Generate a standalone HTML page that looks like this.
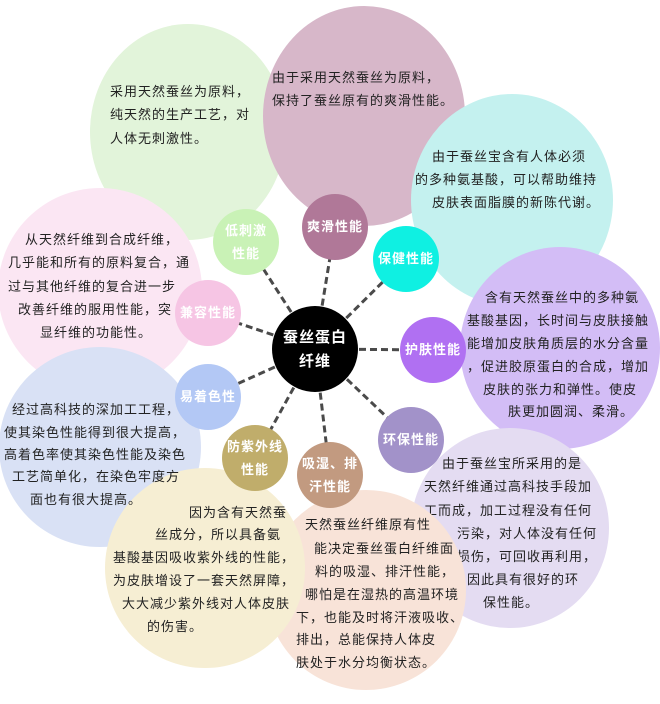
<!DOCTYPE html>
<html><head><meta charset="utf-8"><style>
body{margin:0;background:#fff;}
#c{position:relative;width:660px;height:704px;overflow:hidden;font-family:"Liberation Sans","Noto Sans CJK SC",sans-serif;}
.t{position:absolute;font-size:13px;letter-spacing:1px;color:#222;white-space:pre;line-height:16px;}
svg{position:absolute;left:0;top:0;}
.l{position:absolute;font-size:13px;letter-spacing:1px;color:#fff;white-space:pre;text-align:center;line-height:23px;font-weight:bold;}
</style></head><body><div id="c">
<svg width="660" height="704">
<ellipse cx="188" cy="132" rx="98" ry="108" fill="#e2f4da"/>
<ellipse cx="364" cy="116" rx="101" ry="110" fill="#d7b7c9"/>
<ellipse cx="512" cy="200" rx="101" ry="106" fill="#c4f1ef"/>
<ellipse cx="100" cy="290" rx="102" ry="102" fill="#fbe6f3"/>
<ellipse cx="560" cy="348" rx="100" ry="101" fill="#d3bdf6"/>
<ellipse cx="100" cy="447" rx="101" ry="100" fill="#d9e1f5"/>
<ellipse cx="510" cy="528" rx="99" ry="100" fill="#e4dcf2"/>
</svg>
<div class="t" style="left:110px;top:84px">采用天然蚕丝为原料，</div>
<div class="t" style="left:110px;top:107px">纯天然的生产工艺，对</div>
<div class="t" style="left:110px;top:131px">人体无刺激性。</div>
<div class="t" style="left:272px;top:70px">由于采用天然蚕丝为原料，</div>
<div class="t" style="left:272px;top:93px">保持了蚕丝原有的爽滑性能。</div>
<div class="t" style="left:432px;top:149px">由于蚕丝宝含有人体必须</div>
<div class="t" style="left:415px;top:172px">的多种氨基酸，可以帮助维持</div>
<div class="t" style="left:432px;top:195px">皮肤表面脂膜的新陈代谢。</div>
<div class="t" style="left:25px;top:232px">从天然纤维到合成纤维，</div>
<div class="t" style="left:8px;top:255px">几乎能和所有的原料复合，通</div>
<div class="t" style="left:8px;top:279px">过与其他纤维的复合进一步</div>
<div class="t" style="left:18px;top:302px">改善纤维的服用性能，突</div>
<div class="t" style="left:40px;top:325px">显纤维的功能性。</div>
<div class="t" style="left:485px;top:290px">含有天然蚕丝中的多种氨</div>
<div class="t" style="left:467px;top:313px">基酸基因，长时间与皮肤接触</div>
<div class="t" style="left:467px;top:336px">能增加皮肤角质层的水分含量</div>
<div class="t" style="left:467px;top:359px">，促进胶原蛋白的合成，增加</div>
<div class="t" style="left:483px;top:382px">皮肤的张力和弹性。使皮</div>
<div class="t" style="left:508px;top:404px">肤更加圆润、柔滑。</div>
<div class="t" style="left:442px;top:456px">由于蚕丝宝所采用的是</div>
<div class="t" style="left:424px;top:479px">天然纤维通过高科技手段加</div>
<div class="t" style="left:424px;top:503px">工而成，加工过程没有任何</div>
<div class="t" style="left:457px;top:526px">污染，对人体没有任何</div>
<div class="t" style="left:457px;top:549px">损伤，可回收再利用，</div>
<div class="t" style="left:467px;top:572px">因此具有很好的环</div>
<div class="t" style="left:483px;top:595px">保性能。</div>
<svg width="660" height="704"><ellipse cx="366" cy="590" rx="100" ry="100" fill="#f8e3d8"/></svg>
<div class="t" style="left:305px;top:517px">天然蚕丝纤维原有性</div>
<div class="t" style="left:314px;top:541px">能决定蚕丝蛋白纤维面</div>
<div class="t" style="left:315px;top:564px">料的吸湿、排汗性能，</div>
<div class="t" style="left:305px;top:587px">哪怕是在湿热的高温环境</div>
<div class="t" style="left:296px;top:610px">下，也能及时将汗液吸收、</div>
<div class="t" style="left:296px;top:632px">排出，总能保持人体皮</div>
<div class="t" style="left:296px;top:655px">肤处于水分均衡状态。</div>
<svg width="660" height="704"><ellipse cx="205" cy="568" rx="100" ry="100" fill="#f6eed3"/></svg>
<div class="t" style="left:12px;top:402px">经过高科技的深加工工程，</div>
<div class="t" style="left:4px;top:425px">使其染色性能得到很大提高，</div>
<div class="t" style="left:4px;top:447px">高着色率使其染色性能及染色</div>
<div class="t" style="left:12px;top:469px">工艺简单化，在染色牢度方</div>
<div class="t" style="left:30px;top:492px">面也有很大提高。</div>
<div class="t" style="left:189px;top:505px">因为含有天然蚕</div>
<div class="t" style="left:155px;top:527px">丝成分，所以具备氨</div>
<div class="t" style="left:113px;top:550px">基酸基因吸收紫外线的性能，</div>
<div class="t" style="left:113px;top:573px">为皮肤增设了一套天然屏障，</div>
<div class="t" style="left:122px;top:596px">大大减少紫外线对人体皮肤</div>
<div class="t" style="left:147px;top:619px">的伤害。</div>
<svg width="660" height="704">
<g stroke="#4a4a4a" stroke-width="3" stroke-dasharray="7,4">
<line x1="315" y1="349" x2="335" y2="227"/>
<line x1="315" y1="349" x2="406" y2="259"/>
<line x1="315" y1="349" x2="246" y2="242"/>
<line x1="315" y1="349" x2="208" y2="313"/>
<line x1="315" y1="349" x2="433" y2="350"/>
<line x1="315" y1="349" x2="208" y2="397"/>
<line x1="315" y1="349" x2="411" y2="440"/>
<line x1="315" y1="349" x2="255" y2="458"/>
<line x1="315" y1="349" x2="330" y2="475"/>
</g>
<circle cx="335" cy="227" r="33" fill="#b07898"/>
<circle cx="406" cy="259" r="33" fill="#0ff0e2"/>
<circle cx="246" cy="242" r="33" fill="#c9f2b6"/>
<circle cx="208" cy="313" r="33" fill="#f6c5e4"/>
<circle cx="433" cy="350" r="33" fill="#b070f2"/>
<circle cx="208" cy="397" r="33" fill="#b3c8f5"/>
<circle cx="411" cy="440" r="33" fill="#a292c9"/>
<circle cx="255" cy="458" r="33" fill="#c0ad6b"/>
<circle cx="330" cy="475" r="33" fill="#c29a80"/>
<circle cx="315" cy="349" r="43" fill="#000"/>
</svg>
<div class="l" style="left:295px;top:215px;width:80px">爽滑性能</div>
<div class="l" style="left:366px;top:247px;width:80px">保健性能</div>
<div class="l" style="left:206px;top:219px;width:80px">低刺激
性能</div>
<div class="l" style="left:168px;top:301px;width:80px">兼容性能</div>
<div class="l" style="left:393px;top:338px;width:80px">护肤性能</div>
<div class="l" style="left:168px;top:385px;width:80px">易着色性</div>
<div class="l" style="left:371px;top:428px;width:80px">环保性能</div>
<div class="l" style="left:215px;top:435px;width:80px">防紫外线
性能</div>
<div class="l" style="left:290px;top:452px;width:80px">吸湿、排
汗性能</div>
<div class="l" style="left:265px;top:326px;width:100px;font-size:15px;line-height:24px">蚕丝蛋白
纤维</div>
</div></body></html>
